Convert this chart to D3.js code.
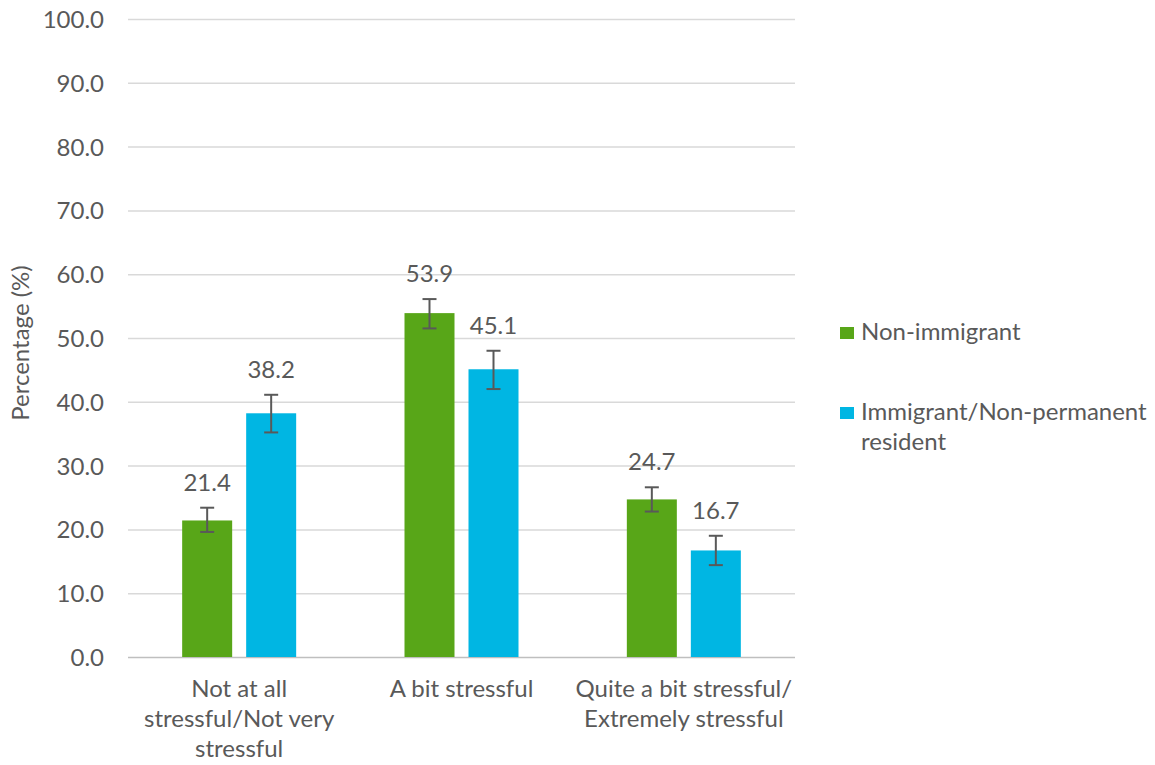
<!DOCTYPE html>
<html><head><meta charset="utf-8">
<script src="https://cdn.jsdelivr.net/npm/d3@7"></script>
<style>body{margin:0;background:#fff}svg{display:block}text{font-family:Lato,"Open Sans",sans-serif;fill:#595959}</style>
</head><body><svg id="c" width="1155" height="765"></svg>
<script>
const categories = [["Not at all","stressful/Not very","stressful"],["A bit stressful"],["Quite a bit stressful/","Extremely stressful"]];
const seriesNames = ["Non-immigrant", ["Immigrant/Non-permanent","resident"]];
const colors = ["#58A618","#00B6E3"];
const nonImmigrant = [21.4, 53.9, 24.7];
const immigrant = [38.2, 45.1, 16.7];
const nonImmigrantLow = [19.6, 51.5, 22.8];
const nonImmigrantHigh = [23.4, 56.1, 26.6];
const immigrantLow = [35.2, 42.0, 14.4];
const immigrantHigh = [41.1, 48.0, 19.0];
const yTicks = [0,10,20,30,40,50,60,70,80,90,100];

const FS = "24px";
const svg = d3.select("#c");
const x0 = d3.scaleBand().domain([0,1,2]).range([128,795]);
const y = d3.scaleLinear().domain([0,100]).range([657,19]);
const series = [
  {vals:nonImmigrant, lo:nonImmigrantLow, hi:nonImmigrantHigh},
  {vals:immigrant, lo:immigrantLow, hi:immigrantHigh}
];
const barW = 50, gap = 14;
const bx = (ci, si) => x0(ci) + x0.bandwidth()/2 - gap/2 - barW + si*(barW+gap);

// gridlines
svg.append("g").selectAll("line").data(yTicks).join("line")
  .attr("x1",128).attr("x2",795).attr("y1",d=>y(d)+0.5).attr("y2",d=>y(d)+0.5)
  .attr("stroke",d=>d===0?"#BFBFBF":"#D9D9D9").attr("stroke-width",1.5);
svg.append("g").selectAll("text").data(yTicks).join("text")
  .attr("x",104).attr("y",d=>y(d)+9).attr("text-anchor","end")
  .style("font-size",FS).text(d=>d.toFixed(1));

series.forEach((s,si)=>{
  const g = svg.append("g");
  g.selectAll("rect").data(s.vals).join("rect")
    .attr("x",(d,i)=>bx(i,si)).attr("width",barW)
    .attr("y",d=>y(d)).attr("height",d=>y(0)-y(d)).attr("fill",colors[si]);
  const eg = g.selectAll("g.err").data(s.vals).join("g").attr("class","err");
  eg.append("line").attr("x1",(d,i)=>bx(i,si)+barW/2).attr("x2",(d,i)=>bx(i,si)+barW/2)
    .attr("y1",(d,i)=>y(s.lo[i])).attr("y2",(d,i)=>y(s.hi[i])).attr("stroke","#595959").attr("stroke-width",2);
  [s.lo,s.hi].forEach(arr=>{
    eg.append("line").attr("x1",(d,i)=>bx(i,si)+barW/2-7).attr("x2",(d,i)=>bx(i,si)+barW/2+7)
      .attr("y1",(d,i)=>y(arr[i])).attr("y2",(d,i)=>y(arr[i])).attr("stroke","#595959").attr("stroke-width",2);
  });
  g.selectAll("text.lab").data(s.vals).join("text").attr("class","lab")
    .attr("x",(d,i)=>bx(i,si)+barW/2).attr("y",(d,i)=>y(s.hi[i])-17)
    .attr("text-anchor","middle").style("font-size",FS).text(d=>d.toFixed(1));
});

// category labels
categories.forEach((lines,i)=>{
  const t = svg.append("text").attr("text-anchor","middle").style("font-size",FS);
  lines.forEach((l,j)=>t.append("tspan").attr("x",x0(i)+x0.bandwidth()/2).attr("y",697+j*30).text(l));
});

// y axis title
svg.append("text").attr("transform","translate(29,343) rotate(-90)").attr("text-anchor","middle")
  .style("font-size",FS).text("Percentage (%)");

// legend
const lBase = [340, 420];
seriesNames.forEach((n,i)=>{
  svg.append("rect").attr("x",840).attr("y",lBase[i]-13).attr("width",14).attr("height",12).attr("fill",colors[i]);
  const t = svg.append("text").style("font-size",FS);
  const lines = Array.isArray(n)?n:[n];
  lines.forEach((l,j)=>t.append("tspan").attr("x",861).attr("y",lBase[i]+j*30).text(l));
});
</script></body></html>
